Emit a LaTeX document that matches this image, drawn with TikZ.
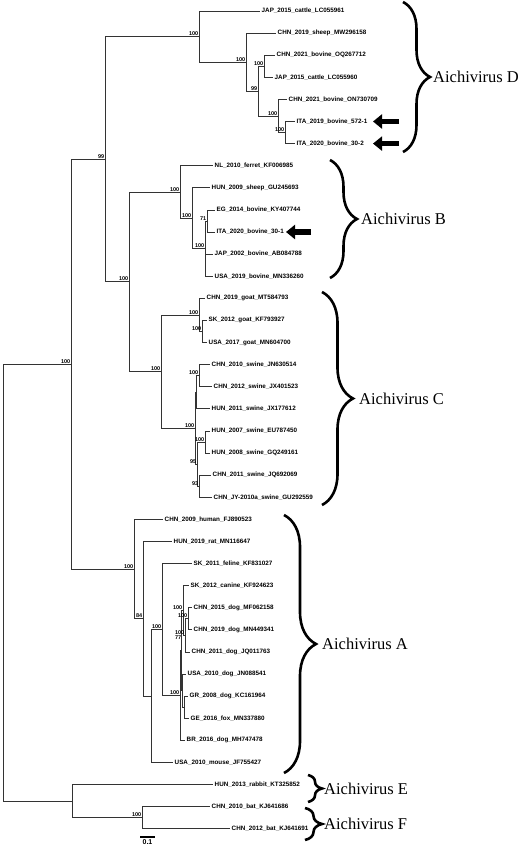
\documentclass[tikz,border=0pt]{standalone}
\usepackage{fontspec}
\setmainfont{Liberation Serif}
\newfontfamily\leaffont{Liberation Sans}
\usetikzlibrary{positioning,decorations.pathreplacing,arrows.meta}

\begin{document}
\begin{tikzpicture}[x=1pt, y=-1pt]
    \tikzstyle{branch} = [draw=black!80, line width=0.7pt]
    \tikzstyle{leaf} = [anchor=west, inner sep=1.5pt, font=\leaffont\bfseries\fontsize{6.3}{7}\selectfont]
    \tikzstyle{boot} = [anchor=south east, inner sep=0.6pt, font=\leaffont\bfseries\fontsize{5.5}{6}\selectfont]
    \tikzstyle{clade} = [inner sep=0pt, font=\fontsize{16.5}{18}\selectfont]
    \tikzstyle{brace} = [draw, line width=2.6pt, decorate]
    \tikzstyle{pointer} = [draw, line width=5.5pt, -{Triangle[length=9pt, width=14pt]}]

    \useasboundingbox (0,0) rectangle (529,850);

    \foreach \n/\x/\txt in {1/260/JAP\_2015\_cattle\_LC055961, 2/276/CHN\_2019\_sheep\_MW296158,
        3/275/CHN\_2021\_bovine\_OQ267712, 4/273/JAP\_2015\_cattle\_LC055960,
        5/287/CHN\_2021\_bovine\_ON730709, 6/295/ITA\_2019\_bovine\_572-1,
        7/295/ITA\_2020\_bovine\_30-2, 8/213/NL\_2010\_ferret\_KF006985,
        9/210/HUN\_2009\_sheep\_GU245693, 10/215/EG\_2014\_bovine\_KY407744,
        11/215/ITA\_2020\_bovine\_30-1, 12/213/JAP\_2002\_bovine\_AB084788,
        13/213/USA\_2019\_bovine\_MN336260, 14/205/CHN\_2019\_goat\_MT584793,
        15/207/SK\_2012\_goat\_KF793927, 16/207/USA\_2017\_goat\_MN604700,
        17/210/CHN\_2010\_swine\_JN630514, 18/212/CHN\_2012\_swine\_JX401523,
        19/210/HUN\_2011\_swine\_JX177612, 20/210/HUN\_2007\_swine\_EU787450,
        21/210/HUN\_2008\_swine\_GQ249161, 22/211/CHN\_2011\_swine\_JQ692069,
        23/212/CHN\_JY-2010a\_swine\_GU292559, 24/163/CHN\_2009\_human\_FJ890523,
        25/172/HUN\_2019\_rat\_MN116647, 26/192/SK\_2011\_feline\_KF831027,
        27/189/SK\_2012\_canine\_KF924623, 28/192/CHN\_2015\_dog\_MF062158,
        29/192/CHN\_2019\_dog\_MN449341, 30/190/CHN\_2011\_dog\_JQ011763,
        31/186/USA\_2010\_dog\_JN088541, 32/188/GR\_2008\_dog\_KC161964,
        33/189/GE\_2016\_fox\_MN337880, 34/185/BR\_2016\_dog\_MH747478,
        35/173/USA\_2010\_mouse\_JF755427, 36/213/HUN\_2013\_rabbit\_KT325852,
        37/210/CHN\_2010\_bat\_KJ641686, 38/230/CHN\_2012\_bat\_KJ641691} {
        \pgfmathsetmacro\y{11+22.1*(\n-1)}
        \coordinate (t\n) at (\x,\y);
        \node[leaf] (lab\n) at (t\n) {\txt};
    }

    \coordinate (root) at (3,582.6);
    \coordinate (nABCD) at (71,364);
    \coordinate (nBCD) at (105,159.1);
    \coordinate (nD0) at (199,36.55);
    \coordinate (nD1) at (246,62.1);
    \coordinate (nD2) at (258,91.1);
    \coordinate (nD2a) at (264,66.25);
    \coordinate (nD3) at (278,116);
    \coordinate (nD4) at (285,132.55);
    \coordinate (nBC) at (129,281.7);
    \coordinate (nB1) at (180,191.95);
    \coordinate (nB2) at (192,218.2);
    \coordinate (nB3) at (205,248.6);
    \coordinate (nB4) at (207,220.95);
    \coordinate (nC) at (161,371.5);
    \coordinate (nG1) at (199,314.9);
    \coordinate (nG2) at (202,331.45);
    \coordinate (nS1) at (195,428.1);
    \coordinate (nS1a) at (196,392.2);
    \coordinate (nS2) at (199,375.65);
    \coordinate (nS3) at (197,464.05);
    \coordinate (nS4) at (205,441.95);
    \coordinate (nS5) at (199,486.15);
    \coordinate (nA) at (134,569);
    \coordinate (nA2) at (143,618.65);
    \coordinate (nA3) at (151,695.9);
    \coordinate (nA4) at (162,629.45);
    \coordinate (nA5) at (180,695.4);
    \coordinate (nA5a) at (181,650.5);
    \coordinate (nA6) at (183,610.45);
    \coordinate (nA6b) at (185,635.3);
    \coordinate (nA6c) at (188,618.75);
    \coordinate (nA7) at (182,690.6);
    \coordinate (nA8) at (184,707.15);
    \coordinate (nEF) at (72,801.1);
    \coordinate (nBat) at (142,817.65);

    \foreach \p/\c in {root/nABCD, root/nEF, nABCD/nBCD, nABCD/nA, nBCD/nD0, nBCD/nBC,
        nD0/t1, nD0/nD1, nD1/t2, nD1/nD2, nD2/nD2a, nD2/nD3, nD2a/t3, nD2a/t4,
        nD3/t5, nD3/nD4, nD4/t6, nD4/t7,
        nBC/nB1, nBC/nC, nB1/t8, nB1/nB2, nB2/t9, nB2/nB3, nB3/nB4, nB3/t12, nB3/t13,
        nB4/t10, nB4/t11,
        nC/nG1, nC/nS1, nG1/t14, nG1/nG2, nG2/t15, nG2/t16,
        nS1/nS1a, nS1/nS3, nS1a/nS2, nS1a/t19, nS2/t17, nS2/t18,
        nS3/nS4, nS3/nS5, nS4/t20, nS4/t21, nS5/t22, nS5/t23,
        nA/t24, nA/nA2, nA2/t25, nA2/nA3, nA3/nA4, nA3/t35, nA4/t26, nA4/nA5,
        nA5/nA5a, nA5/t34, nA5a/nA6, nA5a/nA7, nA6/t27, nA6/nA6b, nA6b/nA6c, nA6b/t30,
        nA6c/t28, nA6c/t29, nA7/t31, nA7/nA8, nA8/t32, nA8/t33,
        nEF/t36, nEF/nBat, nBat/t37, nBat/t38}
        \draw[branch] (\p) |- (\c);

    \foreach \c/\v in {nABCD/100, nBCD/99, nD0/100, nD1/100, nD2/99, nD2a/100, nD3/100, nD4/100,
        nBC/100, nB1/100, nB2/100, nB3/100, nB4/71, nC/100, nG1/100, nG2/100,
        nS1/100, nS2/100, nS3/95, nS4/100, nS5/93, nA/100, nA2/84, nA4/100, nA5/100,
        nA6/100, nA6b/100, nA6c/100, nBat/100}
        \node[boot] at (\c) {\v};
    \node[boot, anchor=north east] at ([xshift=-3pt]nA6b) {77};

    \coordinate (arD1s) at (399,121.5);
    \coordinate (arD1e) at (373,121.5);
    \coordinate (arD2s) at (399,143.6);
    \coordinate (arD2e) at (373,143.6);
    \coordinate (arBs) at (311,232);
    \coordinate (arBe) at (286,232);
    \path [pointer] (arD1s) -- (arD1e);
    \path [pointer] (arD2s) -- (arD2e);
    \path [pointer] (arBs) -- (arBe);

    \coordinate (brDt) at (403,2);
    \coordinate (brDb) at (403,152);
    \coordinate (tipD) at (430,77);
    \coordinate (brBt) at (330,160);
    \coordinate (brBb) at (330,278);
    \coordinate (tipB) at (357,219);
    \coordinate (brCt) at (322,292);
    \coordinate (brCb) at (322,505);
    \coordinate (tipC) at (353,398.5);
    \coordinate (brAt) at (284,515);
    \coordinate (brAb) at (284,773);
    \coordinate (tipA) at (316,644);
    \coordinate (brEt) at (308,775);
    \coordinate (brEb) at (308,802);
    \coordinate (tipE) at (322,788.5);
    \coordinate (brFt) at (305,808);
    \coordinate (brFb) at (305,840);
    \coordinate (tipF) at (322,824);

    \path [brace, decoration={brace, amplitude=27pt}] (brDt) -- (brDb);
    \path [brace, decoration={brace, amplitude=27pt}] (brBt) -- (brBb);
    \path [brace, decoration={brace, amplitude=31pt}] (brCt) -- (brCb);
    \path [brace, decoration={brace, amplitude=32pt}] (brAt) -- (brAb);
    \path [brace, decoration={brace, amplitude=14pt}] (brEt) -- (brEb);
    \path [brace, decoration={brace, amplitude=17pt}] (brFt) -- (brFb);

    \node [clade, right=3pt of tipD] (cladeD) {Aichivirus D};
    \node [clade, right=4pt of tipB] (cladeB) {Aichivirus B};
    \node [clade, right=6pt of tipC] (cladeC) {Aichivirus C};
    \node [clade, right=6pt of tipA] (cladeA) {Aichivirus A};
    \node [clade, right=2pt of tipE] (cladeE) {Aichivirus E};
    \node [clade, right=2pt of tipF] (cladeF) {Aichivirus F};

    \coordinate (barL) at (140,837);
    \coordinate (barR) at (155,837);
    \draw[line width=1.2pt] (barL) -- (barR);
    \node[boot, anchor=north, font=\leaffont\bfseries\fontsize{7}{8}\selectfont] (barlab) at (147.5,838.5) {0.1};
\end{tikzpicture}
\end{document}
